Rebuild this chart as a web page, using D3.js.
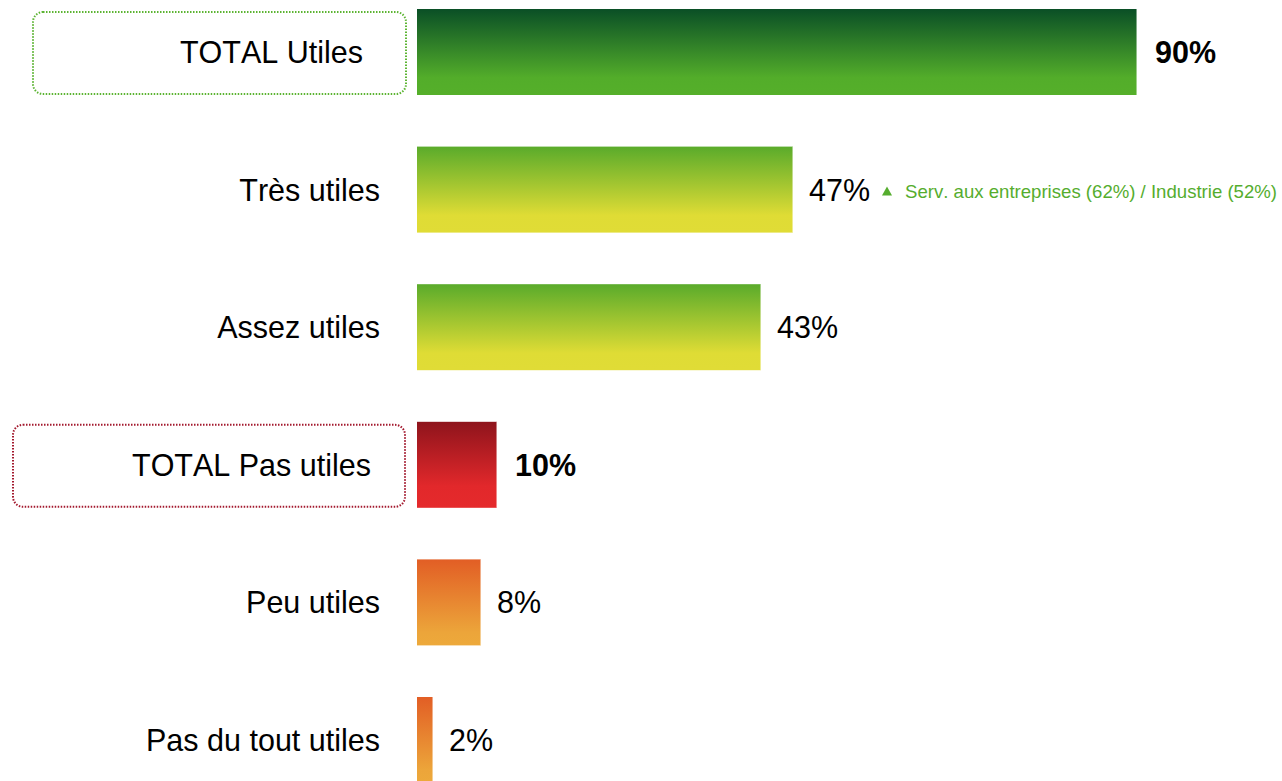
<!DOCTYPE html>
<html>
<head>
<meta charset="utf-8">
<script src="https://cdn.jsdelivr.net/npm/d3@7"></script>
<style>
html,body{margin:0;padding:0;background:#fff;}
svg{display:block;font-family:"Liberation Sans",Arial,sans-serif;}
svg text{font-kerning:none;}
</style>
</head>
<body>
<svg id="chart" width="1282" height="781"></svg>
<script>
const categories = ["TOTAL Utiles","Très utiles","Assez utiles","TOTAL Pas utiles","Peu utiles","Pas du tout utiles"];
const values = [90,47,43,10,8,2];
const valueLabels = ["90%","47%","43%","10%","8%","2%"];
const isTotal = [true,false,false,true,false,false];
const groups = ["darkgreen","yellowgreen","yellowgreen","red","orange","orange"];
const annotationText = "Serv. aux entreprises (62%) / Industrie (52%)";
const annotationRow = "Très utiles";

const svg = d3.select("#chart");
const x = d3.scaleLinear().domain([0,90]).range([417,1137]);
const y = d3.scaleBand().domain(categories).range([-16.8,808.8]).paddingInner(0.375).paddingOuter(0.1875);

const grads = {
  darkgreen:[["0%","#0a4f26"],["80%","#53ad2a"],["100%","#55af2a"]],
  yellowgreen:[["0%","#5aab2b"],["80%","#dfdc35"],["100%","#e0dc36"]],
  red:[["0%","#8e141c"],["75%","#e2282b"],["100%","#e52a2c"]],
  orange:[["0%","#e25e25"],["85%","#eca53a"],["100%","#eda93b"]]
};
const defs = svg.append("defs");
Object.entries(grads).forEach(([k,stops])=>{
  const g = defs.append("linearGradient").attr("id","g-"+k).attr("x1",0).attr("x2",0).attr("y1",0).attr("y2",1);
  stops.forEach(s=>g.append("stop").attr("offset",s[0]).attr("stop-color",s[1]));
});

const data = categories.map((c,i)=>({c,v:values[i],l:valueLabels[i],t:isTotal[i],g:groups[i]}));

const boxStyle = {
  "TOTAL Utiles":{x0:33,x1:406,color:"#5cb432",labelEnd:363},
  "TOTAL Pas utiles":{x0:13,x1:405,color:"#a3192e",labelEnd:371}
};
data.filter(d=>d.t).forEach(d=>{
  const b = boxStyle[d.c];
  svg.append("rect")
    .attr("x",b.x0).attr("y",y(d.c)+3).attr("width",b.x1-b.x0).attr("height",y.bandwidth()-4)
    .attr("rx",10).attr("ry",10)
    .attr("fill","none").attr("stroke",b.color).attr("stroke-width",2)
    .attr("stroke-dasharray","1.5 1.5");
});

svg.selectAll("rect.bar").data(data).enter().append("rect")
  .attr("class","bar")
  .attr("x",x(0)).attr("y",d=>y(d.c))
  .attr("width",d=>x(d.v)-x(0)).attr("height",y.bandwidth())
  .attr("fill",d=>"url(#g-"+d.g+")");
svg.selectAll("line.edge").data(data).enter().append("line")
  .attr("x1",d=>x(d.v)-0.5).attr("x2",d=>x(d.v)-0.5)
  .attr("y1",d=>y(d.c)).attr("y2",d=>y(d.c)+y.bandwidth())
  .attr("stroke","#ffffff").attr("stroke-opacity",0.45).attr("stroke-width",1);

svg.selectAll("text.cat").data(data).enter().append("text")
  .attr("class","cat")
  .attr("x",d=>d.t?boxStyle[d.c].labelEnd:380)
  .attr("y",d=>y(d.c)+y.bandwidth()/2)
  .attr("dy","0.36em")
  .attr("text-anchor","end")
  .attr("font-size","30.5px")
  .attr("fill","#000")
  .text(d=>d.c);

svg.selectAll("text.val").data(data).enter().append("text")
  .attr("class","val")
  .attr("x",d=>x(d.v)+(d.t?18:16))
  .attr("y",d=>y(d.c)+y.bandwidth()/2)
  .attr("dy","0.36em")
  .attr("font-size","30.5px")
  .attr("font-weight",d=>d.t?"bold":"normal")
  .attr("fill","#000")
  .text(d=>d.l);

const ad = data.find(d=>d.c===annotationRow);
const ay = y(ad.c)+y.bandwidth()/2 + 2;
const ax = x(ad.v)+89;
svg.append("path")
  .attr("d",`M${ax},${ay+4} L${ax+10},${ay+4} L${ax+5},${ay-5} Z`)
  .attr("fill","#55ad2e");
svg.append("text")
  .attr("x",ax+23).attr("y",ay).attr("dy","0.36em")
  .attr("font-size","18.6px").attr("fill","#55ad2e")
  .text(annotationText);
</script>
</body>
</html>
